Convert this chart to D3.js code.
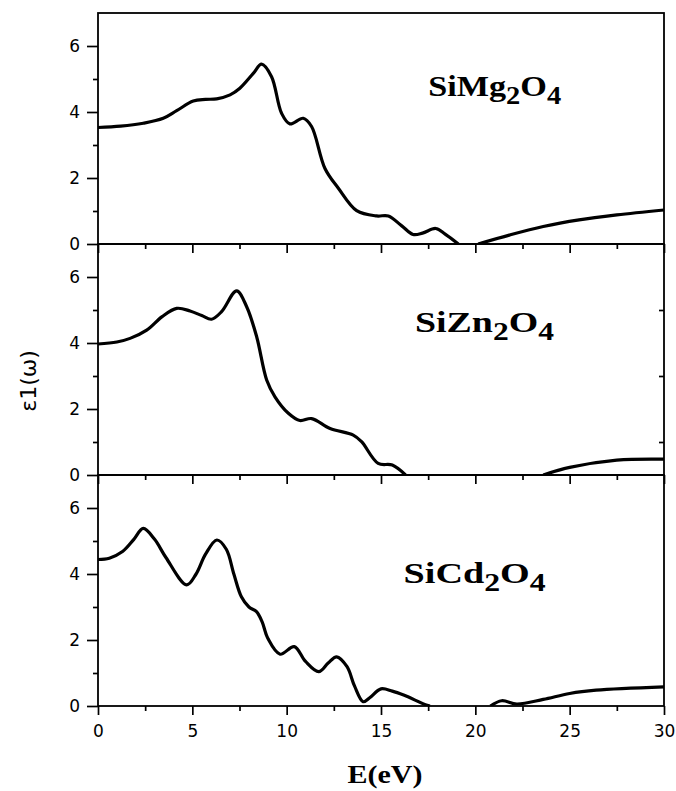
<!DOCTYPE html>
<html>
<head>
<meta charset="utf-8">
<script src="https://cdn.jsdelivr.net/npm/d3@7/dist/d3.min.js"></script>
<style>
  body { margin: 0; background: #fff; }
  .tick line { stroke: #000; stroke-width: 1.7px; }
  .tick text { font-family: 'DejaVu Sans', sans-serif; font-size: 17px; fill: #000; }
</style>
</head>
<body>
<svg id="chart"></svg>
<script>
// E (eV) and eps1 for each compound; null marks where the curve drops below 0
var energyMg = [0, 1.2, 2.4, 3.46, 4.17, 5.05, 5.7, 6.29, 7.0, 7.52, 8.23, 8.67, 9.2, 9.73, 10.17, 10.88, 11.32, 12.03, 12.74, 13.71, 14.77, 15.39, 16.1, 16.7, 17.2, 17.9, 18.4, 19.1, null, 20.15, 21.8, 23.6, 25.5, 27.5, 30];
var epsMg = [3.53, 3.57, 3.66, 3.81, 4.04, 4.33, 4.38, 4.4, 4.52, 4.72, 5.17, 5.45, 5.07, 3.96, 3.64, 3.81, 3.56, 2.29, 1.69, 1.01, 0.85, 0.85, 0.55, 0.29, 0.33, 0.47, 0.3, 0, null, 0, 0.27, 0.53, 0.73, 0.88, 1.03];

var energyZn = [0, 1.0, 1.7, 2.58, 3.4, 4.17, 4.88, 5.5, 6.02, 6.55, 7.35, 7.88, 8.41, 8.94, 9.38, 10.09, 10.7, 11.32, 12.3, 13.53, 13.97, 14.85, 15.6, 16.3, null, 23.6, 25.0, 27.5, 30];
var epsZn = [3.97, 4.03, 4.14, 4.39, 4.8, 5.05, 4.97, 4.83, 4.72, 4.95, 5.58, 5.1, 4.19, 2.88, 2.37, 1.87, 1.65, 1.71, 1.41, 1.21, 1.01, 0.35, 0.3, 0, null, 0, 0.23, 0.45, 0.48];

var energyCd = [0, 0.6, 1.3, 1.9, 2.4, 3.0, 3.6, 4.7, 5.2, 5.7, 6.3, 6.8, 7.2, 7.6, 8.0, 8.4, 8.7, 9.0, 9.65, 10.4, 11.0, 11.7, 12.2, 12.65, 13.2, 13.6, 14.05, 14.4, 15.0, 15.6, 16.2, 17.4, 17.6, null, 20.8, 21.4, 22.2, 23.6, 25.0, 26.4, 30];
var epsCd = [4.44, 4.48, 4.68, 5.05, 5.38, 5.05, 4.5, 3.67, 4.0, 4.6, 5.03, 4.75, 4.0, 3.31, 3.0, 2.86, 2.55, 2.05, 1.57, 1.8, 1.35, 1.04, 1.3, 1.49, 1.19, 0.6, 0.13, 0.25, 0.52, 0.45, 0.33, 0.03, 0, null, 0, 0.16, 0.06, 0.2, 0.38, 0.48, 0.58];

var compounds = [
  { base: 'SiMg', sub1: '2', o: 'O', sub2: '4', lx: 17.5, ly: 4.5, len: 133 },
  { base: 'SiZn', sub1: '2', o: 'O', sub2: '4', lx: 16.8, ly: 4.34, len: 139 },
  { base: 'SiCd', sub1: '2', o: 'O', sub2: '4', lx: 16.2, ly: 3.73, len: 142 }
];
var energies = [energyMg, energyZn, energyCd];
var values = [epsMg, epsZn, epsCd];

var xTicks = [0, 5, 10, 15, 20, 25, 30];
var xMinor = [2.5, 7.5, 12.5, 17.5, 22.5, 27.5];
var yTicks = [0, 2, 4, 6];
var yMinor = [1, 3, 5];

var vWidth = 676,
  vHeight = 791,
  margin = { top: 13, left: 98 },
  width = 566,
  panelH = 231;

var svg = d3.select('#chart').attr('width', vWidth).attr('height', vHeight);

var x = d3.scaleLinear().domain([0, 30]).range([0, width]);
var y = d3.scaleLinear().domain([0, 7]).range([panelH, 0]);

var line = d3
  .line()
  .defined(function(d) { return d[1] != null; })
  .x(function(d) { return x(d[0]); })
  .y(function(d) { return y(d[1]); })
  .curve(d3.curveCatmullRom.alpha(0.5));

svg.append('defs').append('clipPath').attr('id', 'clip')
  .append('rect').attr('width', width).attr('height', panelH);

compounds.forEach(function(c, i) {
  var g = svg.append('g')
    .attr('transform', 'translate(' + margin.left + ',' + (margin.top + i * panelH) + ')');

  var pts = energies[i].map(function(e, k) { return [e, values[i][k]]; });

  g.append('path')
    .datum(pts)
    .attr('clip-path', 'url(#clip)')
    .attr('fill', 'none')
    .attr('stroke', '#000')
    .attr('stroke-width', 3.2)
    .attr('stroke-linejoin', 'round')
    .attr('d', line);

  // left axis, major + minor
  var yAx = g.append('g')
    .call(d3.axisLeft(y).tickValues(yTicks).tickSize(11).tickPadding(7).tickFormat(d3.format('d')));
  yAx.select('.domain').remove();
  var yAxMin = g.append('g')
    .call(d3.axisLeft(y).tickValues(yMinor).tickSize(5).tickFormat(''));
  yAxMin.select('.domain').remove();

  // bottom ticks on each panel
  var xAx = g.append('g')
    .attr('transform', 'translate(0,' + panelH + ')')
    .call(d3.axisBottom(x).tickValues(xTicks).tickSize(9).tickPadding(10)
      .tickFormat(i === 2 ? d3.format('d') : ''));
  xAx.select('.domain').remove();
  var xAxMin = g.append('g')
    .attr('transform', 'translate(0,' + panelH + ')')
    .call(d3.axisBottom(x).tickValues(xMinor).tickSize(5).tickFormat(''));
  xAxMin.select('.domain').remove();

  if (i === 1) {
    var rAx = g.append('g')
      .attr('transform', 'translate(' + width + ',0)')
      .call(d3.axisLeft(y).tickValues(yMinor).tickSize(5).tickFormat(''));
    rAx.select('.domain').remove();
  }

  g.append('rect')
    .attr('width', width)
    .attr('height', panelH)
    .attr('fill', 'none')
    .attr('stroke', '#000')
    .attr('stroke-width', 1.8);

  var t = g.append('text')
    .attr('x', x(c.lx))
    .attr('y', y(c.ly))
    .attr('font-family', "'Liberation Serif', 'Times New Roman', serif")
    .attr('font-weight', 'bold')
    .attr('font-size', 30)
    .attr('textLength', c.len)
    .attr('lengthAdjust', 'spacingAndGlyphs');
  t.append('tspan').text(c.base);
  t.append('tspan').attr('dy', 8).attr('font-size', 25).text(c.sub1);
  t.append('tspan').attr('dy', -8).text(c.o);
  t.append('tspan').attr('dy', 8).attr('font-size', 25).text(c.sub2);
});

svg.append('text')
  .attr('x', margin.left + width / 2 + 4)
  .attr('y', 783)
  .attr('text-anchor', 'middle')
  .attr('font-family', "'Liberation Serif', 'Times New Roman', serif")
  .attr('font-weight', 'bold')
  .attr('font-size', 26)
  .attr('textLength', 75)
  .attr('lengthAdjust', 'spacingAndGlyphs')
  .text('E(eV)');

svg.append('text')
  .attr('transform', 'translate(36,381) rotate(-90)')
  .attr('text-anchor', 'middle')
  .attr('font-family', "'DejaVu Sans', sans-serif")
  .attr('font-size', 22)
  .text('\u03b51(\u03c9)');
</script>
</body>
</html>
